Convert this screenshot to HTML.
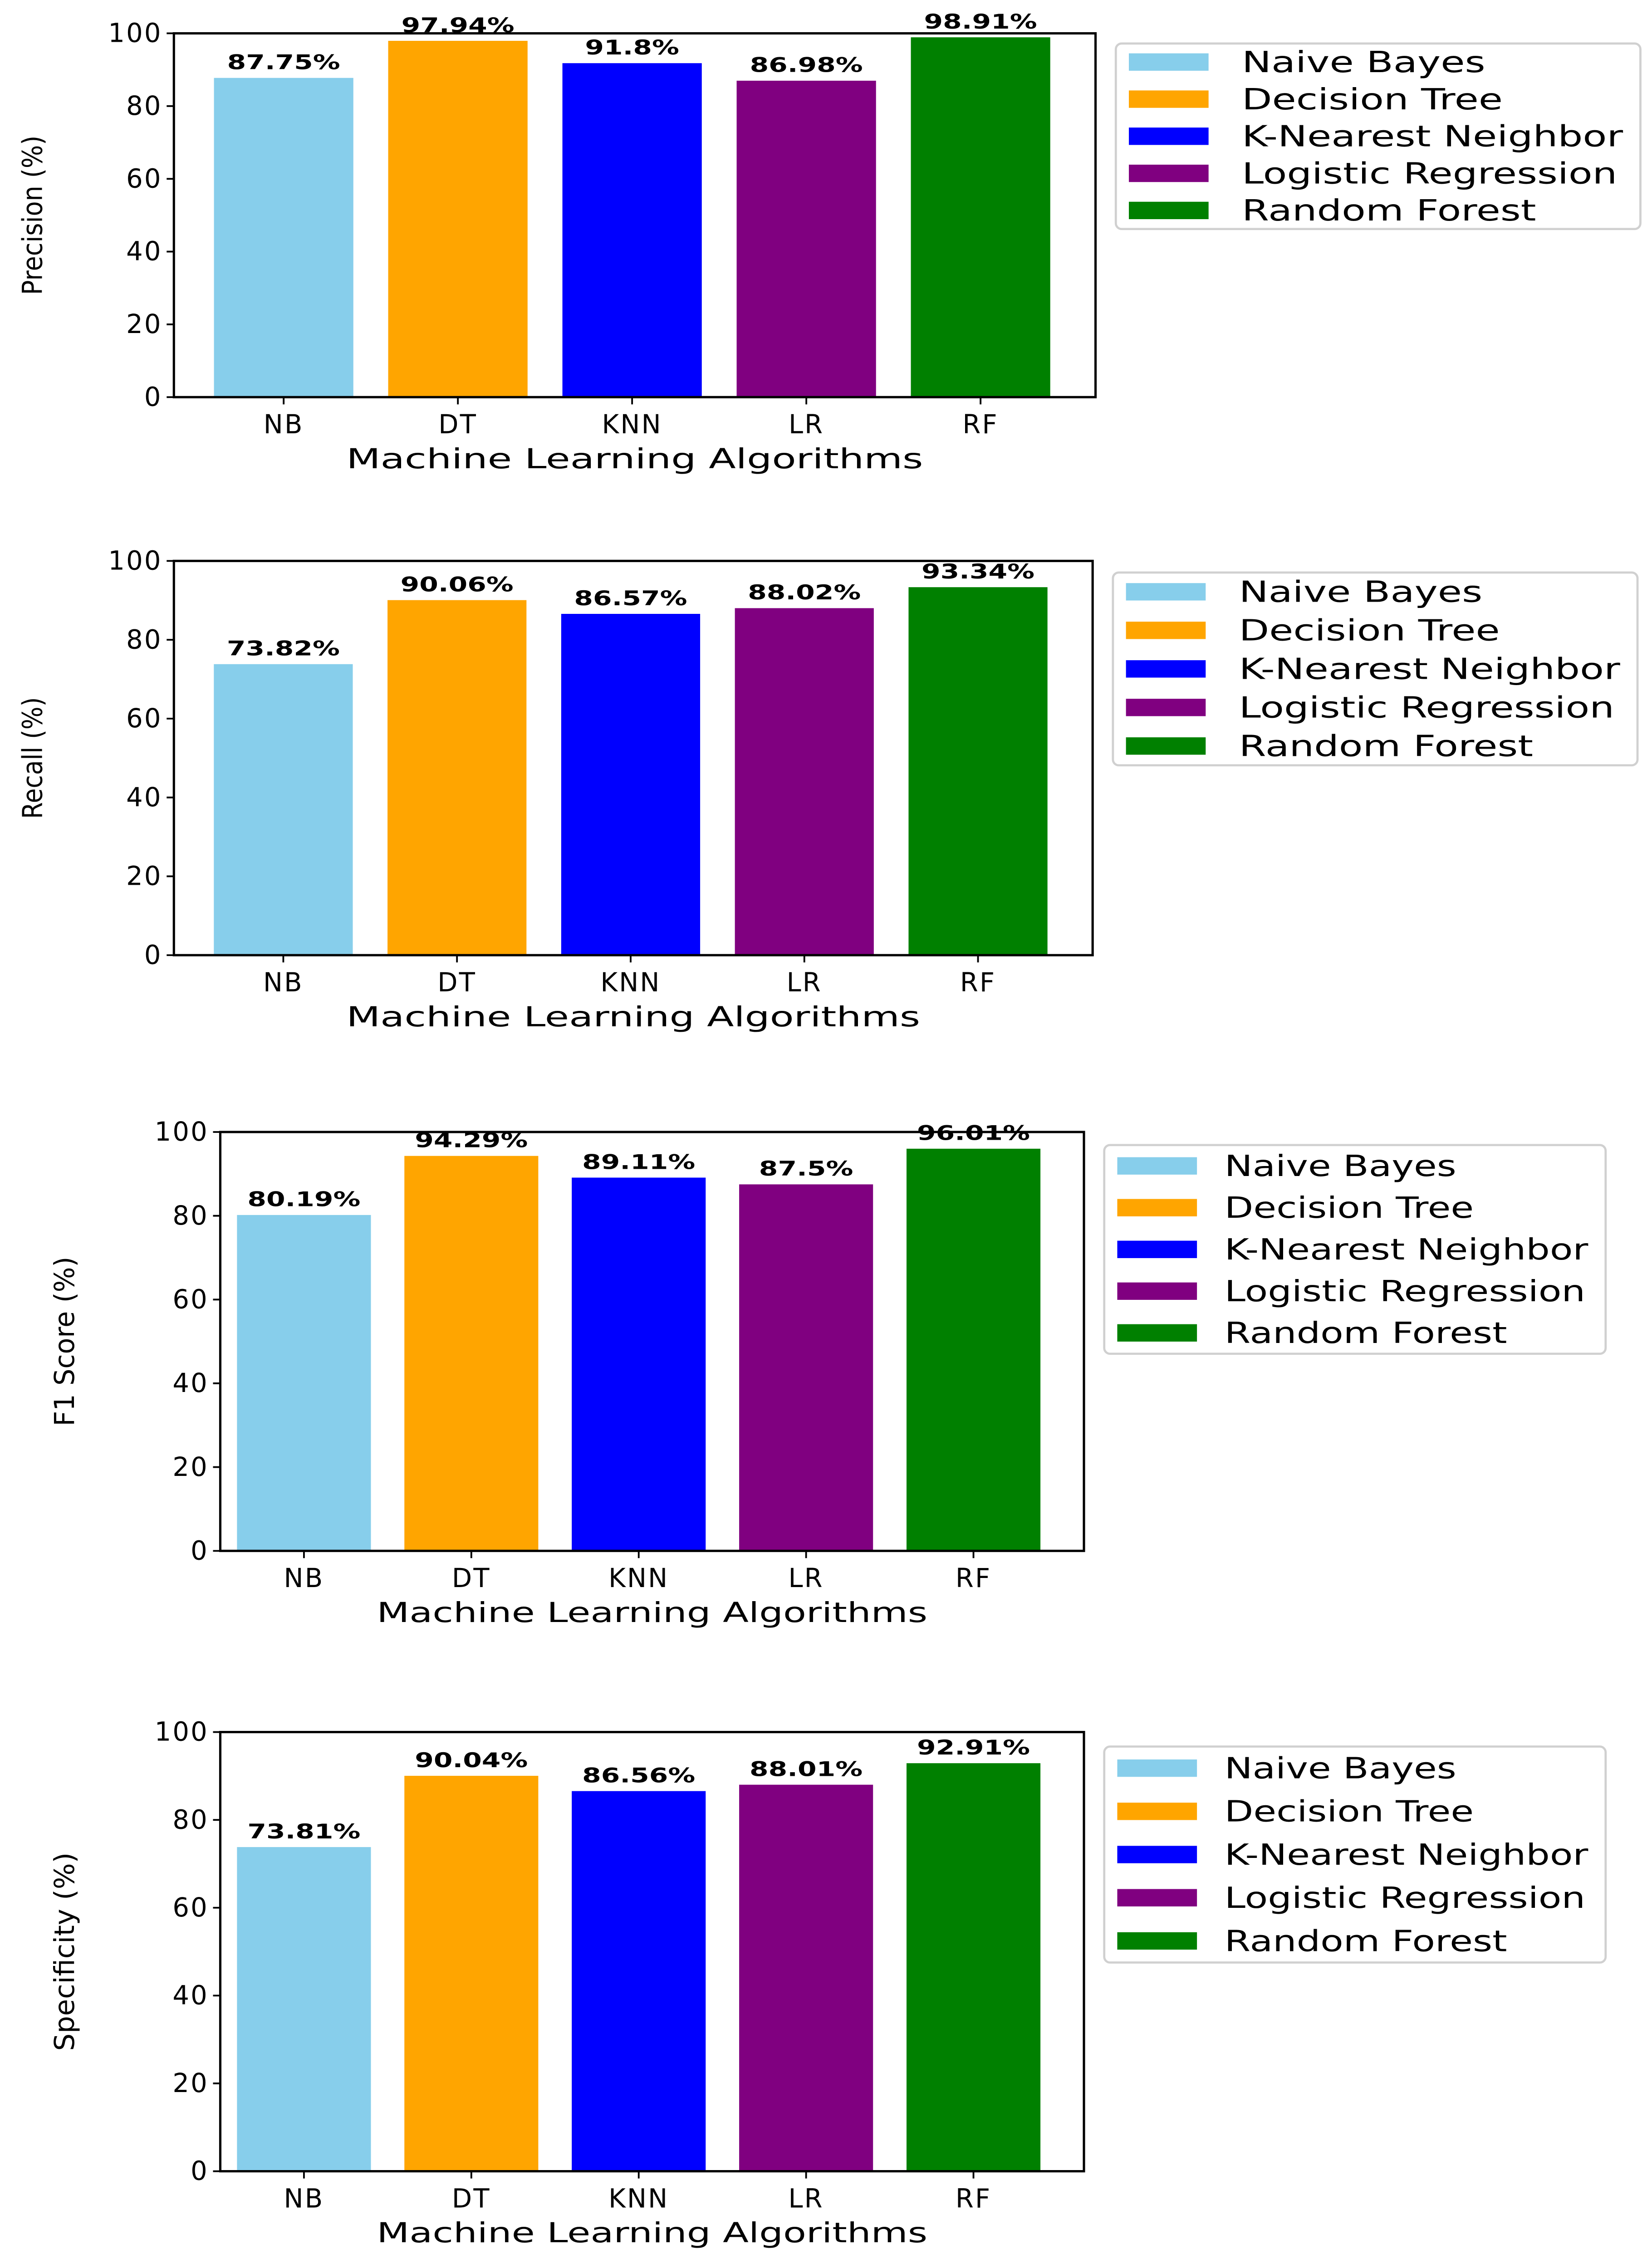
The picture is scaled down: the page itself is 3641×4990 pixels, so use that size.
<!DOCTYPE html>
<html><head><meta charset="utf-8"><style>
html,body{margin:0;padding:0;background:#fff}
svg{display:block}
text{font-family:"DejaVu Sans","Liberation Sans",sans-serif;fill:#000}
</style></head><body>
<svg id="fig" width="3641" height="4990" viewBox="0 0 1140 1562" preserveAspectRatio="none" xmlns="http://www.w3.org/2000/svg"></svg>
<script>
const categories = ["NB","DT","KNN","LR","RF"];
const legendNames = ["Naive Bayes","Decision Tree","K-Nearest Neighbor","Logistic Regression","Random Forest"];
const colors = ["#87ceeb","#ffa500","#0000ff","#800080","#008000"];
const yTicks = [0,20,40,60,80,100];
const metricTitles = ["Precision (%)","Recall (%)","F1 Score (%)","Specificity (%)"];
const precisionValues = [87.75,97.94,91.8,86.98,98.91];
const recallValues = [73.82,90.06,86.57,88.02,93.34];
const f1Values = [80.19,94.29,89.11,87.5,96.01];
const specificityValues = [73.81,90.04,86.56,88.01,92.91];
const precisionLabels = ["87.75%","97.94%","91.8%","86.98%","98.91%"];
const recallLabels = ["73.82%","90.06%","86.57%","88.02%","93.34%"];
const f1Labels = ["80.19%","94.29%","89.11%","87.5%","96.01%"];
const specificityLabels = ["73.81%","90.04%","86.56%","88.01%","92.91%"];

const series = [precisionValues, recallValues, f1Values, specificityValues];
const seriesLabels = [precisionLabels, recallLabels, f1Labels, specificityLabels];
const legendLenWide = [168,180,263,259,203];
const legendLenNarrow = [160,172,251,249,195];
const panels = [
  {l:120,r:756,t:23,b:274,lx:770,lw:362,ly:30,lh:128,yl:22,units:5.29,off:0.63,tx:857,ll:legendLenWide,xtl:398,ytl:110},
  {l:120,r:754,t:387,b:659,lx:768,lw:362,ly:395,lh:133,yl:22,units:5.29,off:0.63,tx:855,ll:legendLenWide,xtl:396,ytl:84},
  {l:152,r:748,t:781,b:1070,lx:762,lw:346,ly:790,lh:144,yl:44,units:5.16,off:0.5,tx:845,ll:legendLenNarrow,xtl:380,ytl:117},
  {l:152,r:748,t:1195,b:1498,lx:762,lw:346,ly:1205,lh:149,yl:44,units:5.16,off:0.5,tx:845,ll:legendLenNarrow,xtl:380,ytl:137}
];
const NS="http://www.w3.org/2000/svg";
const svg=document.getElementById('fig');
function mk(tag,attrs,parent){const e=document.createElementNS(NS,tag);for(const k in attrs)e.setAttribute(k,attrs[k]);parent.appendChild(e);return e;}

panels.forEach((p,pi)=>{
  const g=mk('g',{},svg);
  
  
  const yS=v=>p.b-(v/100)*(p.b-p.t);
  const step=(p.r-p.l)/p.units;
  const xC=i=>p.l+step*(p.off+i);
  const bw=step*0.8;
  series[pi].forEach((v,i)=>{
    const r=mk('rect',{x:xC(i)-bw/2,y:yS(v),width:bw,height:yS(0)-yS(v),fill:colors[i]},g);
    
    
    const lbl=seriesLabels[pi][i];
    const t=mk('text',{x:xC(i),y:yS(v)-6,'text-anchor':'middle','font-size':14,'font-weight':'bold',textLength:lbl.length*13,lengthAdjust:'spacingAndGlyphs'},g);
    t.textContent=lbl;
    
    
  });
  const fr=mk('rect',{x:p.l,y:p.t,width:p.r-p.l,height:p.b-p.t,fill:'none',stroke:'#000','stroke-width':1.6},g);
  
  
  yTicks.forEach(v=>{
    mk('line',{x1:p.l-5,x2:p.l,y1:yS(v),y2:yS(v),stroke:'#000','stroke-width':1.2},g);
    const t=mk('text',{x:p.l-8,y:yS(v)+6,'text-anchor':'end','font-size':18,'letter-spacing':1},g);
    t.textContent=v;
    
    
  });
  categories.forEach((c,i)=>{
    mk('line',{x1:xC(i),x2:xC(i),y1:p.b,y2:p.b+5,stroke:'#000','stroke-width':1.2},g);
    const t=mk('text',{x:xC(i),y:p.b+25,'text-anchor':'middle','font-size':18,'letter-spacing':1},g);
    t.textContent=c;
    
    
  });
  const xt=mk('text',{x:(p.l+p.r)/2,y:p.b+49,'text-anchor':'middle','font-size':19,textLength:p.xtl,lengthAdjust:'spacingAndGlyphs'},g);
  xt.textContent='Machine Learning Algorithms';
  
  
  const yt=mk('text',{x:0,y:0,'text-anchor':'middle','font-size':19,textLength:p.ytl,lengthAdjust:'spacingAndGlyphs',transform:`translate(${p.yl+7},${(p.t+p.b)/2}) rotate(-90)`},g);
  yt.textContent=metricTitles[pi];
  
  
  const lg=mk('g',{},g);
  
  
  mk('rect',{x:p.lx,y:p.ly,width:p.lw,height:p.lh,rx:4,fill:'#fff',stroke:'#d0d0d0','stroke-width':1.5},lg);
  const rowH=p.lh/5;
  legendNames.forEach((n,i)=>{
    const cy=p.ly+rowH*(i+0.5);
    const e=mk('g',{},lg);
    
    
    mk('rect',{x:p.lx+9,y:cy-6,width:55,height:12,fill:colors[i]},e);
    const t=mk('text',{x:p.tx,y:cy+7,'font-size':20,textLength:p.ll[i],lengthAdjust:'spacingAndGlyphs'},e);
    t.textContent=n;
  });
});
</script>
</body></html>
